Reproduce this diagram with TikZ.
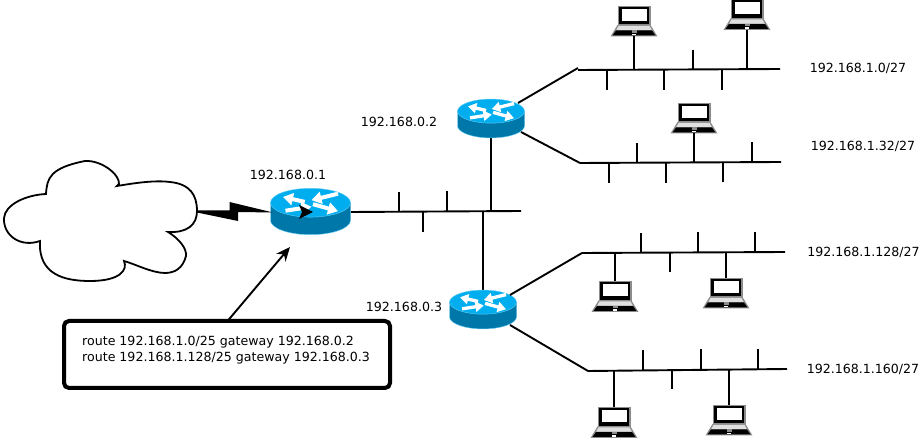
\documentclass[tikz,border=0pt]{standalone}
\usepackage{fontspec}
\setmainfont{DejaVu Sans}
\usetikzlibrary{arrows.meta}
\definecolor{rtop}{HTML}{00AEEF}
\definecolor{rside}{HTML}{0077A9}
\tikzset{
  x=1pt,y=-1pt,
  wire/.style={line width=1.9pt,black},
  lbl/.style={font=\fontsize{12.6}{14}\selectfont,inner sep=0pt,anchor=center},
  anchorbox/.style={inner sep=0pt,minimum width=#1,minimum height=39pt},
  lapbox/.style={inner sep=0pt,minimum width=46pt,minimum height=30pt},
  pics/router/.style args={#1}{code={
    \pgfmathsetmacro{\hw}{#1}\pgfmathsetmacro{\ry}{\hw*0.36}\pgfmathsetmacro{\tp}{-\hw*0.22}\pgfmathsetmacro{\bt}{\hw*0.22}
    \pgfmathsetmacro{\sc}{\hw/40}
    \fill[rside,draw=rtop!60,line width=.4pt] (-\hw,\tp) -- (-\hw,\bt) arc[start angle=180,end angle=360,x radius=\hw,y radius=-\ry] -- (\hw,\tp) -- cycle;
    \fill[rtop,draw=rtop!60,line width=.4pt] (0,\tp) ellipse[x radius=\hw,y radius=\ry];
    \begin{scope}[shift={(0,\tp)},x=\sc*1pt,y=-\sc*1pt]
      \foreach \ax/\ay/\bx/\by in {-25/-8/1/-4,2.5/-1.5/27.5/-8.5,-5.8/0.8/-27.5/5.8,27.5/9/1/2.5}{
        \draw[white,line width=\sc*4pt,-{Triangle[length=\sc*10pt,width=\sc*12pt]}] (\ax,-\ay) -- (\bx,-\by);
      }
    \end{scope}
  }},
  pics/laptop/.style={code={
    \fill[black!45] (-16.5,0) rectangle (16.5,19.5);
    \fill[black] (-15,1) rectangle (15,18.5);
    \fill[white] (-12.5,3) rectangle (12.5,15);
    \fill[black!45] (-16.5,19) -- (16.5,19) -- (23.5,30.5) -- (-23.5,30.5) -- cycle;
    \fill[black!12] (-15.5,20) -- (15.5,20) -- (18,24.5) -- (-18,24.5) -- cycle;
    \fill[black] (-18,24.5) -- (18,24.5) -- (21.5,29.5) -- (-21.5,29.5) -- cycle;
    \fill[black!45] (-2.5,24.5) rectangle (2.5,27);
    \fill[white] (-2,28) rectangle (2,29.5);
  }}
}
\begin{document}
\begin{tikzpicture}
\useasboundingbox (0,0) rectangle (922,438);
% cloud
\draw[line width=1.8pt,fill=white] (46,194)
  .. controls (47,178) and (50,168) .. (85,161)
  .. controls (102,160) and (120,175) .. (119,184)
  -- (117,186)
  .. controls (135,183) and (155,180) .. (170,182)
  .. controls (190,184) and (197,195) .. (197,211)
  .. controls (197,225) and (187,233) .. (168,232)
  .. controls (178,238) and (187,248) .. (186,256)
  .. controls (183,268) and (175,273) .. (165,273)
  .. controls (152,273) and (135,264) .. (124,261)
  .. controls (128,270) and (120,281) .. (90,281)
  .. controls (65,281) and (38,275) .. (40,241)
  .. controls (20,248) and (3,235) .. (4,218)
  .. controls (5,205) and (25,195) .. (46,194) -- cycle;
\coordinate (cloudport) at (197,210.5);
% routers
\node[anchorbox=80pt,minimum height=47pt] (r1) at (310.5,211.5) {};
\node[anchorbox=67pt] (r2) at (491,118.5) {};
\node[anchorbox=67pt] (r3) at (483,309.5) {};
% main segment
\coordinate (c0a) at (351,212); \coordinate (c0b) at (521,211);
\draw[wire] (c0a) -- (c0b);
\coordinate (c01) at (399,212); \coordinate (c01u) at (399,192);
\coordinate (c02) at (447,211.5); \coordinate (c02u) at (447,191);
\coordinate (c03) at (423,212); \coordinate (c03d) at (423,232);
\coordinate (c04) at (491,211); \coordinate (c05) at (483,211);
\draw[wire] (c01) -- (c01u);
\draw[wire] (c02) -- (c02u);
\draw[wire] (c03) -- (c03d);
\draw[wire] (c04) -- (r2.south);
\draw[wire] (c05) -- (r3.north);
\pic at (r1.center) {router={40}};
\pic at (r2.center) {router={33.5}};
\pic at (r3.center) {router={33.5}};
% lightning
\fill[black] (cloudport) -- (229.5,210.5) -- (229.5,202) -- (273,212.5) -- (238,212) -- (238,221) -- (197,212.5) -- cycle;
% arrow inside main router
\fill[black] (299,205) -- (313,212) -- (299,219) -- (302,212) -- cycle;
% subnets
\coordinate (a1) at (578,70); \coordinate (a2) at (780,69);
\coordinate (b1) at (580,163); \coordinate (b2) at (781,162);
\coordinate (e1) at (582,253); \coordinate (e2) at (785,252);
\coordinate (d1) at (588,371); \coordinate (d2) at (787,369);
\draw[wire] (a1) -- (a2);
\draw[wire] (b1) -- (b2);
\draw[wire] (e1) -- (e2);
\draw[wire] (d1) -- (d2);
\coordinate (r2a) at (518,103); \coordinate (r2b) at (521,132);
\coordinate (r3a) at (510,295); \coordinate (r3b) at (510,325);
\coordinate (a0) at (578,68);
\draw[wire] (r2a) -- (a0);
\draw[wire] (r2b) -- (b1);
\draw[wire] (r3a) -- (e1);
\draw[wire] (r3b) -- (d1);
% stubs
\foreach \x/\ya/\yb in {693/70/50,607/70/90,664/70/90,722/70/90,
  637/163/143,752/162/142,609/163/183,666/163/183,723/162/182,
  641/253/233,698/252/232,755/252/232,670/253/272,
  643/370/350,701/370/349,758/369/349,672/370/389}
  {\draw[wire] (\x,\ya) -- (\x,\yb);}
% laptops
\foreach \n/\x/\y in {l1/634/6,l2/747/-0.5,l3/694/103,l4/615/281.5,l5/726/278,l6/614/407.5,l7/729/405}{
  \node[lapbox] (\n) at (\x,\y+15) {};
  \pic at (\x,\y) {laptop};
}
\coordinate (t1) at (634,70); \coordinate (t2) at (747,69.5); \coordinate (t3) at (694,162);
\coordinate (t4) at (615,253); \coordinate (t5) at (726,252); \coordinate (t6) at (614,371); \coordinate (t7) at (729,369.5);
\draw[wire] (l1.south) -- (t1);
\draw[wire] (l2.south) -- (t2);
\draw[wire] (l3.south) -- (t3);
\draw[wire] (l4.north) -- (t4);
\draw[wire] (l5.north) -- (t5);
\draw[wire] (l6.north) -- (t6);
\draw[wire] (l7.north) -- (t7);
% labels
\node[lbl] (n1) at (288,174.5) {192.168.0.1};
\node[lbl] (n2) at (399,122) {192.168.0.2};
\node[lbl] (n3) at (404,307) {192.168.0.3};
\node[lbl] (s1) at (858,68) {192.168.1.0/27};
\node[lbl] (s2) at (863,146) {192.168.1.32/27};
\node[lbl] (s3) at (863.5,252) {192.168.1.128/27};
\node[lbl] (s4) at (863,369) {192.168.1.160/27};
% route box
\node[draw,line width=4pt,rounded corners=5pt,minimum width=326pt,minimum height=67pt,inner sep=0pt] (rb) at (227,354.5) {};
\node[lbl,anchor=west] (rt1) at (82,342) {route 192.168.1.0/25 gateway 192.168.0.2};
\node[lbl,anchor=west] (rt2) at (82,358) {route 192.168.1.128/25 gateway 192.168.0.3};
\coordinate (rbt) at (228,320.5);
\coordinate (rtip) at (290,247);
\draw[line width=1.9pt,-{Stealth[length=14pt,width=12pt]}] (rbt) -- (rtip);
\end{tikzpicture}
\end{document}
